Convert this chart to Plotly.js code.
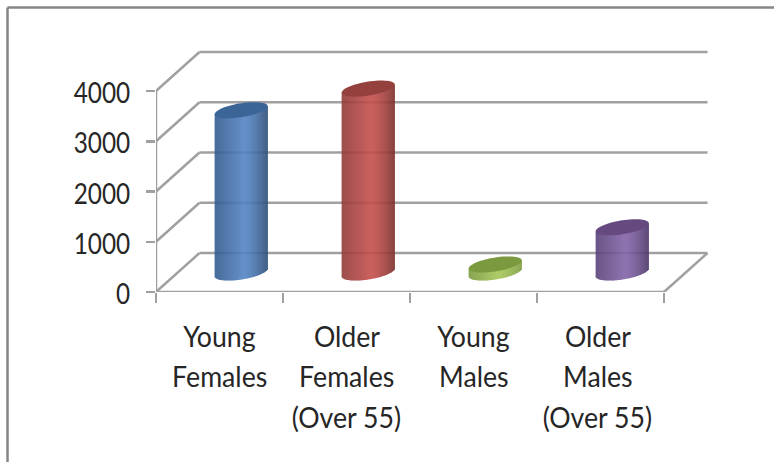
<!DOCTYPE html>
<html>
<head>
<meta charset="utf-8">
<script src="https://cdn.plot.ly/plotly-3.0.1.min.js"></script>
<style>html,body{margin:0;padding:0;background:#fff;overflow:hidden}#chart{width:774px;height:462px}</style>
</head>
<body>
<div id="chart"></div>
<script>
// Survey counts by group
const categories = [
  ["Young", "Females"],
  ["Older", "Females", "(Over 55)"],
  ["Young", "Males"],
  ["Older", "Males", "(Over 55)"]
];
const values = [3230, 3660, 160, 900];
const valueTicks = [0, 1000, 2000, 3000, 4000];
const boundaryTicks = [0, 1, 2, 3, 4];

// Cylinder shading: left edge, highlight, right edge, cap
const sideLeft = ["#335b8f", "#923c39", "#7c9a3f", "#5a4279"];
const sideMid = ["#5484c3", "#c5504d", "#a4c658", "#8364a8"];
const sideRight = ["#2e4f78", "#7c2f2c", "#7f9c42", "#4c3769"];
const capColors = ["#3c6597", "#94403d", "#7b9a40", "#65497f"];

const FONT = 'Lato, "Liberation Sans", sans-serif';
const TEXT = "#262626";
const GRID = "#a0a0a0";
const VALUE_SQUEEZE = 0.84, CATEGORY_SQUEEZE = 0.92;

// Pixel scale of the axes
const W = 774, H = 462;
const plotL = 156, plotR = 720, plotT = 40, plotB = 292;
const pxPerCat = 127, pxPerVal = 201 / 4000;
const px = p => p / pxPerCat;
const pv = p => p / pxPerVal;

// Oblique projection of the floor depth
const depthX = px(43.5), depthY = pv(39);
const midX = depthX / 2, midY = depthY / 2;
const halfW = px(26.5), capB = pv(7), capShear = pv(4);

const mix = (a, b, t) => {
  const h = s => [1, 3, 5].map(i => parseInt(s.substr(i, 2), 16));
  const A = h(a), B = h(b);
  return "rgb(" + A.map((c, i) => Math.round(c + (B[i] - c) * t)).join(",") + ")";
};
const shade = (i, u) => {
  const c = 0.1; // highlight sits a little right of centre
  return u < c ? mix(sideLeft[i], sideMid[i], (u + 1) / (1 + c))
               : mix(sideMid[i], sideRight[i], Math.pow((u - c) / (1 - c), 1.4));
};

// Each cylinder body is a run of narrow bars, shaded across its width
const STRIPS = 53;
const traces = values.map((v, i) => {
  const cx = i + 0.5 + midX, xs = [], bases = [], tops = [], colors = [];
  for (let k = 0; k < STRIPS; k++) {
    const u = -1 + 2 * (k + 0.5) / STRIPS;
    xs.push(cx + u * halfW);
    const lo = midY + capShear * u - capB * Math.sqrt(1 - u * u);
    const hi = midY + v + capShear * u;
    bases.push(lo);
    tops.push(hi - lo);
    colors.push(shade(i, u));
  }
  return {
    type: "bar", x: xs, y: tops, base: bases,
    width: 2.4 * halfW / STRIPS,
    marker: { color: colors, line: { width: 0 } },
    hoverinfo: "skip", showlegend: false, cliponaxis: false
  };
});

// Tilted ellipse closing the top of a cylinder
const capPath = (cx, cy) => {
  const pts = [];
  for (let a = 0; a < 64; a++) {
    const t = a / 64 * 2 * Math.PI;
    pts.push((a ? "L" : "M") + (cx + halfW * Math.cos(t)) + " " +
      (cy + capShear * Math.cos(t) + capB * Math.sin(t)));
  }
  return pts.join(" ") + " Z";
};

const line = (x0, y0, x1, y1, layer) => ({
  type: "line", xref: "x", yref: "y", x0, y0, x1, y1, layer: layer || "below",
  line: { color: GRID, width: 2.5 }
});

const shapes = [];
// Back wall gridlines and the side-wall diagonals
valueTicks.forEach(v => {
  shapes.push(line(0, v, depthX, v + depthY));
  shapes.push(line(depthX, v + depthY, 4 + depthX, v + depthY));
});
// Value axis, floor front edge and floor right edge
shapes.push(line(0, 0, 0, 4000));
shapes.push(line(0, 0, 4, 0));
shapes.push(line(4, 0, 4 + depthX, depthY));
// Cylinder caps
values.forEach((v, i) => shapes.push({
  type: "path", xref: "x", yref: "y", layer: "above",
  path: capPath(i + 0.5 + midX, midY + v),
  fillcolor: capColors[i], line: { width: 0 }
}));
// Outer frame of the chart area
const paperX = p => (p - plotL) / (plotR - plotL);
const paperY = p => (plotB - p) / (plotB - plotT);
[[7.5, 7.5, W, 7.5], [7.5, 7.5, 7.5, H]].forEach(f => shapes.push({
  type: "line", xref: "paper", yref: "paper",
  x0: paperX(f[0]), y0: paperY(f[1]), x1: paperX(f[2]), y1: paperY(f[3]),
  line: { color: "#868686", width: 2.5 }
}));

// Category labels, one annotation per line so the leading can be set
const lineY = [335, 375, 416];
const nudge = [0, 0, 0, -3];
const annotations = [];
categories.forEach((lines, i) => lines.forEach((text, j) => annotations.push({
  xref: "x", yref: "paper", x: i + 0.5, y: paperY(lineY[j]), xshift: nudge[i],
  text, showarrow: false, xanchor: "center", yanchor: "middle",
  font: { family: FONT, size: 29, color: TEXT }
})));

const layout = {
  width: W, height: H,
  margin: { l: plotL, r: W - plotR, t: plotT, b: H - plotB, pad: 0 },
  paper_bgcolor: "#fff", plot_bgcolor: "rgba(0,0,0,0)",
  barmode: "overlay", showlegend: false, hovermode: false,
  xaxis: {
    type: "linear", range: [0, (plotR - plotL) / pxPerCat],
    showgrid: false, zeroline: false, showline: false, showticklabels: false,
    tickmode: "array", tickvals: boundaryTicks,
    ticks: "outside", ticklen: 10, tickwidth: 2.5, tickcolor: GRID
  },
  yaxis: {
    range: [0, (plotB - plotT) / pxPerVal],
    showgrid: false, zeroline: false, showline: false,
    tickmode: "array", tickvals: valueTicks, ticktext: valueTicks.map(String),
    ticks: "outside", ticklen: 9, tickwidth: 2.5, tickcolor: GRID,
    ticklabelstandoff: 10, ticklabelshift: 2,
    tickfont: { family: FONT, size: 29, color: TEXT }
  },
  shapes, annotations
};

Plotly.newPlot("chart", traces, layout, { staticPlot: true, displayModeBar: false }).then(gd => {
  // Labels are set in a condensed cut: narrow the glyphs, keep their height
  const squeeze = (sel, k) => gd.querySelectorAll(sel).forEach(t => {
    t.setAttribute("textLength", (t.getComputedTextLength() * k).toFixed(1));
    t.setAttribute("lengthAdjust", "spacingAndGlyphs");
  });
  squeeze(".ytick text", VALUE_SQUEEZE);
  squeeze(".annotation-text", CATEGORY_SQUEEZE);
});
</script>
</body>
</html>
